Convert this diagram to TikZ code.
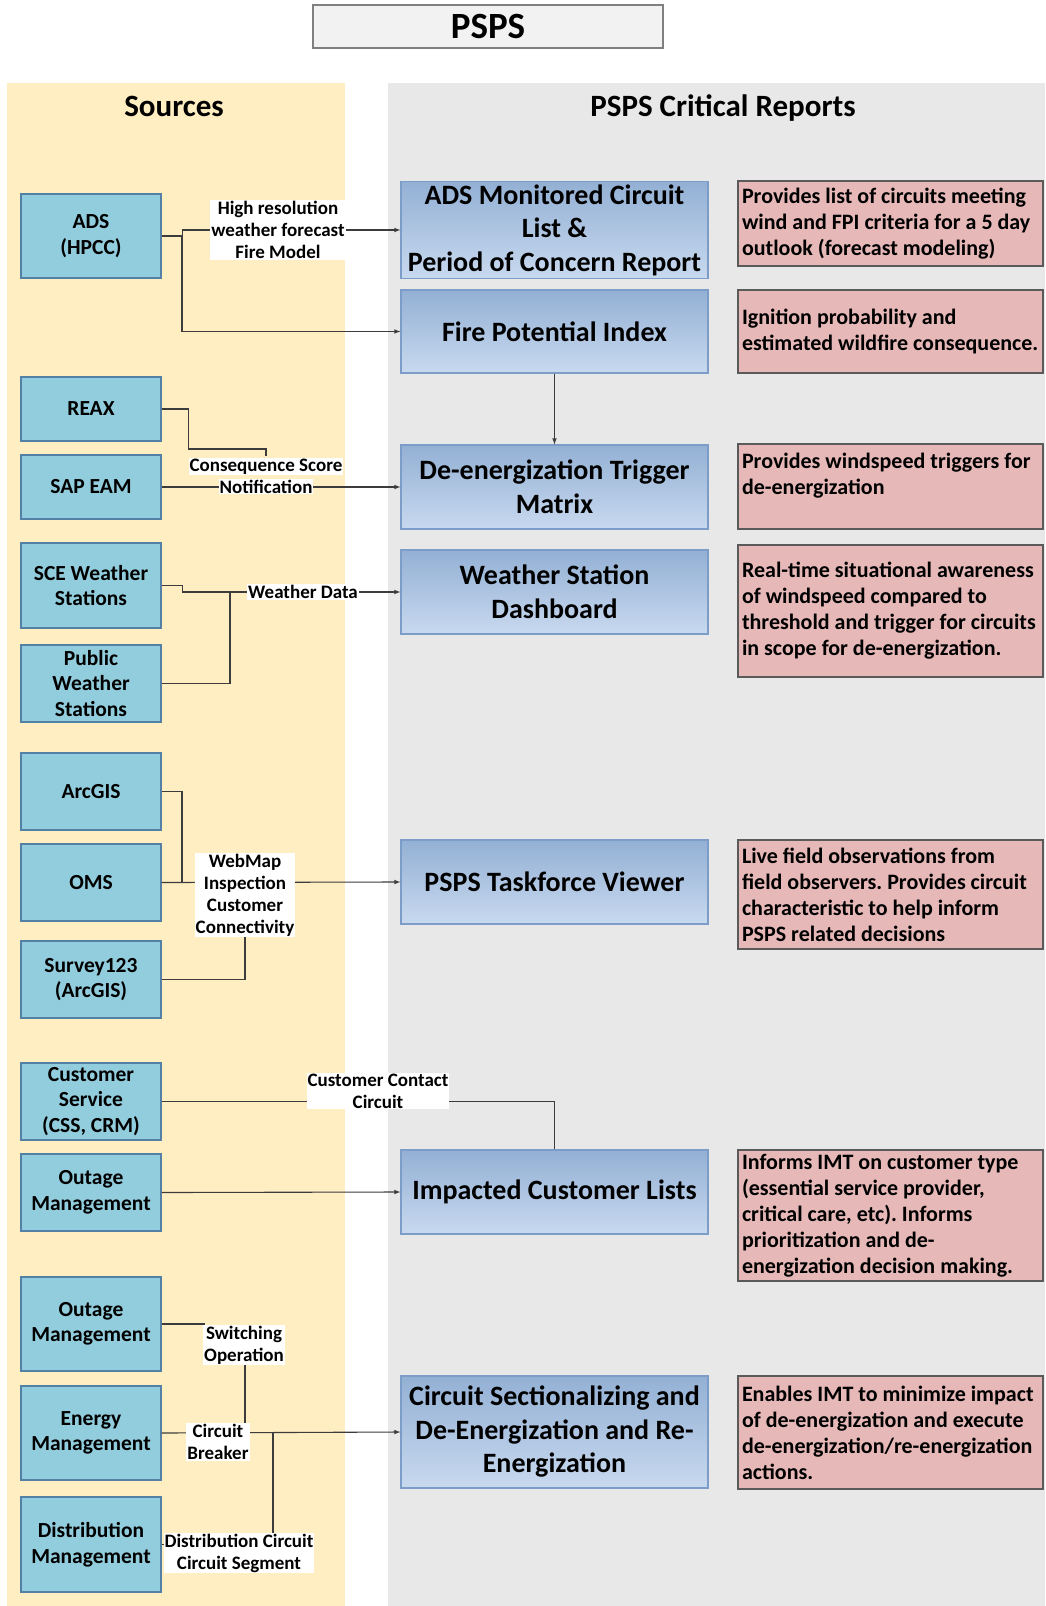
\documentclass[tikz,border=0pt]{standalone}
\usepackage{fontspec}
\setmainfont{Carlito}
\usetikzlibrary{arrows}
\definecolor{src_sand}{RGB}{255,238,193}
\definecolor{rep_grey}{RGB}{232,232,232}
\definecolor{src_teal}{RGB}{146,205,221}
\definecolor{src_edge}{RGB}{84,128,166}
\definecolor{rep_top}{RGB}{147,176,212}
\definecolor{rep_bot}{RGB}{200,217,239}
\definecolor{rep_edge}{RGB}{125,157,201}
\definecolor{dsc_pink}{RGB}{230,185,184}
\definecolor{dsc_edge}{RGB}{90,90,90}
\definecolor{lnk_grey}{RGB}{60,60,60}
\tikzstyle{src}=[rectangle,fill=src_teal,draw=src_edge,line width=1.2pt,
  minimum width=140pt,text width=136pt,align=flush center,inner sep=0pt,
  font=\fontsize{21.5}{25.5}\selectfont\bfseries]
\tikzstyle{rep}=[rectangle,top color=rep_top,bottom color=rep_bot,draw=rep_edge,
  line width=1.2pt,minimum width=307pt,text width=303pt,align=flush center,inner sep=0pt,
  font=\fontsize{28}{33.5}\selectfont\bfseries]
\tikzstyle{dsc}=[rectangle,fill=dsc_pink,draw=dsc_edge,line width=1.2pt,
  minimum width=305pt,text width=297pt,align=flush left,inner xsep=4pt,inner ysep=0pt,
  font=\fontsize{22}{26}\selectfont\bfseries]
\tikzstyle{lbl}=[rectangle,fill=white,inner sep=1pt,align=flush center,
  font=\fontsize{19}{22}\selectfont\bfseries]
\tikzstyle{hdr}=[anchor=base,font=\fontsize{31}{36}\selectfont\bfseries]
\tikzstyle{ttl}=[rectangle,fill=black!5,draw=black!50,line width=1.2pt,
  minimum width=350pt,minimum height=43pt,font=\fontsize{37}{40}\selectfont\bfseries]
\tikzstyle{lnk}=[draw=lnk_grey,line width=1.1pt]
\tikzstyle{none}=[]
\newcommand{\wbox}[1]{{\setlength{\fboxsep}{1pt}\colorbox{white}{#1}}}
\frenchspacing

\begin{document}
\begin{tikzpicture}[x=1pt, y=-1pt]
        \useasboundingbox (0,0) rectangle (1045,1606);
        \fill [src_sand] (7,83) rectangle (345,1606);
        \fill [rep_grey] (388,83) rectangle (1045,1606);
        \node [style=ttl] (0) at (488,26.5) {PSPS};
        \node [style=hdr] (28) at (174,116) {Sources};
        \node [style=hdr] (29) at (723,116) {PSPS Critical Reports};
        % sources
        \node [style=src, minimum height=84pt] (1) at (91,236) {ADS\\(HPCC)};
        \node [style=src, minimum height=64pt] (2) at (91,409) {REAX};
        \node [style=src, minimum height=64pt] (3) at (91,487) {SAP EAM};
        \node [style=src, minimum height=85pt] (4) at (91,585.5) {SCE Weather\\Stations};
        \node [style=src, minimum height=77pt] (5) at (91,683.5) {Public\\Weather\\Stations};
        \node [style=src, minimum height=77pt] (6) at (91,791.5) {ArcGIS};
        \node [style=src, minimum height=77pt] (7) at (91,882.5) {OMS};
        \node [style=src, minimum height=77pt] (8) at (91,979.5) {Survey123\\(ArcGIS)};
        \node [style=src, minimum height=77pt] (9) at (91,1101.5) {Customer\\Service\\(CSS, CRM)};
        \node [style=src, minimum height=77pt] (10) at (91,1192.5) {Outage\\Management};
        \node [style=src, minimum height=94pt] (11) at (91,1324) {Outage\\Management};
        \node [style=src, minimum height=94pt] (12) at (91,1433) {Energy\\Management};
        \node [style=src, minimum height=95pt] (13) at (91,1544.5) {Distribution\\Management};
        % reports
        \node [style=rep, minimum height=97pt] (14) at (554.5,230) {ADS Monitored Circuit\\List \&\\Period of Concern Report};
        \node [style=rep, minimum height=83pt] (15) at (554.5,331.5) {Fire Potential Index};
        \node [style=rep, minimum height=84pt] (16) at (554.5,487) {De-energization Trigger\\Matrix};
        \node [style=rep, minimum height=84pt] (17) at (554.5,592) {Weather Station\\Dashboard};
        \node [style=rep, minimum height=84pt] (18) at (554.5,882) {PSPS Taskforce Viewer};
        \node [style=rep, minimum height=84pt] (19) at (554.5,1192) {Impacted Customer Lists};
        \node [style=rep, minimum height=112pt] (20) at (554.5,1432) {Circuit Sectionalizing and\\De-Energization and Re-\\Energization};
        % descriptions
        \node [style=dsc, minimum height=85pt] (21) at (890.5,223.5) {Provides list of circuits meeting\\wind and FPI criteria for a 5 day\\outlook (forecast modeling)};
        \node [style=dsc, minimum height=83pt] (22) at (890.5,331.5) {Ignition probability and\\estimated wildfire consequence.};
        \node [style=dsc, minimum height=85pt] (23) at (890.5,486.5) {Provides windspeed triggers for\\de-energization\\\mbox{}};
        \node [style=dsc, minimum height=132pt] (24) at (890.5,611) {Real-time situational awareness\\of windspeed compared to\\threshold and trigger for circuits\\in scope for de-energization.};
        \node [style=dsc, minimum height=109pt] (25) at (890.5,894.5) {Live field observations from\\field observers. Provides circuit\\characteristic to help inform\\PSPS related decisions};
        \node [style=dsc, minimum height=131pt] (26) at (890.5,1215.5) {Informs IMT on customer type\\(essential service provider,\\critical care, etc). Informs\\prioritization and de-\\energization decision making.};
        \node [style=dsc, minimum height=113pt] (27) at (890.5,1432.5) {Enables IMT to minimize impact\\of de-energization and execute\\de-energization/re-energization\\actions.};
        % junctions
        \coordinate (30) at (182,236);
        \coordinate (31) at (266,449);
        \coordinate (32) at (230,592);
        \coordinate (33) at (182,883);
        \coordinate (34) at (245,895);
        \coordinate (35) at (205,1324);
        \coordinate (36) at (245,1345);
        \coordinate (37) at (245,1432);
        \coordinate (38) at (273,1544.5);
        \coordinate (39) at (273,1432);
        % connectors
        \draw [style=lnk, -latex] (1.east) -- ++(21,0) |- (14.west);
        \draw [style=lnk, -latex] (30) |- (15.west);
        \draw [style=lnk, -latex] (15) -- (16);
        \draw [style=lnk] (2.east) -- ++(27,0) |- (31) -- ++(0,7);
        \draw [style=lnk, -latex] (3.east) -- (16.west);
        \draw [style=lnk, -latex] (4.east) -- ++(21,0) |- (17.west);
        \draw [style=lnk] (5.east) -| (32);
        \draw [style=lnk] (6.east) -| (33);
        \draw [style=lnk, -latex] (7.east) -- (18.west);
        \draw [style=lnk] (8.east) -| (34);
        \draw [style=lnk] (9.east) -| (19.north);
        \draw [style=lnk, -latex] (10.east) -- (19.west);
        \draw [style=lnk] (11.east) -- (35);
        \draw [style=lnk] (36) -- (37);
        \draw [style=lnk, -latex] (12.east) -- (20.west);
        \draw [style=lnk] (13.east) -- (38) -- (39);
        % labels
        \node [style=lbl] (40) at (278,230) {High resolution\\weather forecast\\Fire Model};
        \node [style=lbl, fill=none, inner sep=0pt] (41) at (266,476) {\wbox{Consequence Score}\\\wbox{Notification}};
        \node [style=lbl] (42) at (303,592) {Weather Data};
        \node [style=lbl] (43) at (245,895) {WebMap\\Inspection\\Customer\\Connectivity};
        \node [style=lbl] (44) at (378,1091) {Customer Contact\\Circuit};
        \node [style=lbl] (45) at (244,1345) {Switching\\Operation};
        \node [style=lbl] (46) at (218,1442) {Circuit\\Breaker};
        \node [style=lbl] (47) at (239,1553) {Distribution Circuit\\Circuit Segment};
\end{tikzpicture}
\end{document}
